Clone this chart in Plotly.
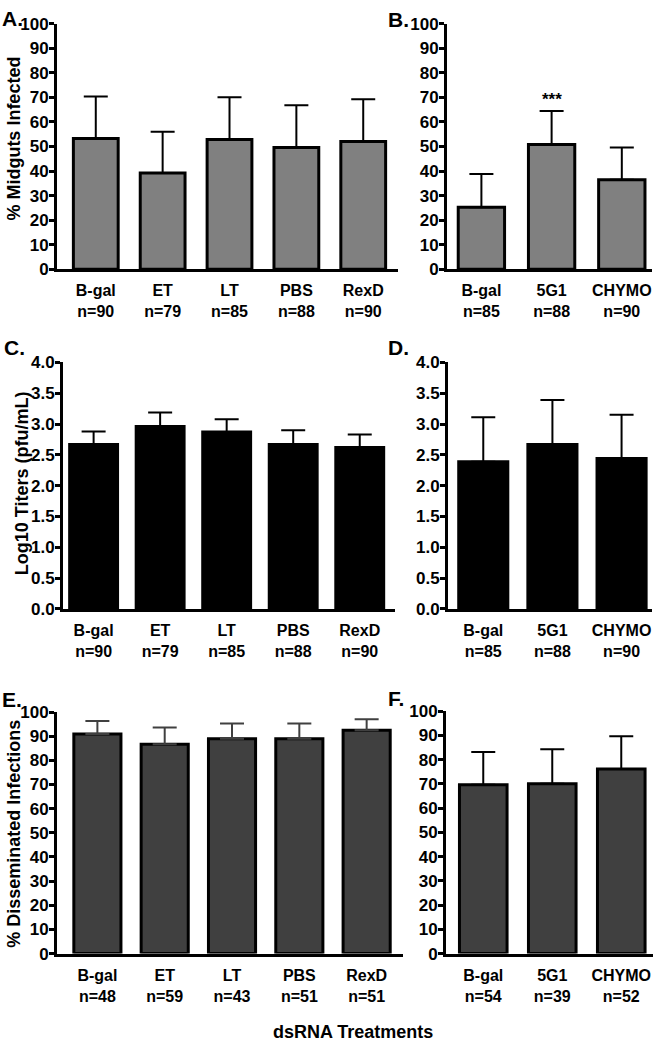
import plotly.graph_objects as go

W, H = 659, 1049

# ---------- data ----------
cats_left = ["B-gal", "ET", "LT", "PBS", "RexD"]
cats_right = ["B-gal", "5G1", "CHYMO"]

n_A = ["n=90", "n=79", "n=85", "n=88", "n=90"]
n_B = ["n=85", "n=88", "n=90"]
n_C = ["n=90", "n=79", "n=85", "n=88", "n=90"]
n_D = ["n=85", "n=88", "n=90"]
n_E = ["n=48", "n=59", "n=43", "n=51", "n=51"]
n_F = ["n=54", "n=39", "n=52"]

midgut_left = [53.2, 39.2, 52.8, 49.6, 52.0]
midgut_left_err = [17.2, 16.8, 17.2, 17.2, 17.2]
midgut_right = [25.2, 50.8, 36.4]
midgut_right_err = [13.6, 13.6, 13.2]

titer_left = [2.67, 2.96, 2.87, 2.67, 2.62]
titer_left_err = [0.21, 0.23, 0.21, 0.23, 0.21]
titer_right = [2.39, 2.67, 2.44]
titer_right_err = [0.72, 0.72, 0.71]

dissem_left = [90.9, 86.7, 88.9, 88.9, 92.5]
dissem_left_err = [5.4, 6.9, 6.4, 6.4, 4.5]
dissem_right = [69.6, 70.0, 76.1]
dissem_right_err = [13.5, 14.2, 13.5]

# ---------- layout helpers ----------
def fx(px):
    return px / W

def fy(py):
    return 1 - py / H

FONT = "Liberation Sans, Arial, sans-serif"

panels = [
    dict(cats=cats_left, n=n_A, v=midgut_left, e=midgut_left_err, fill="#808080", ec="#000000",
         xd=(57, 398), yd=(15, 265), xr=(-0.58, 4.52), yr=(0, 100), dt=10, fmt="d",
         title="% Midguts Infected", tx=14, ty=132, letter="A.", lx=0, ly=10, width=0.67),
    dict(cats=cats_right, n=n_B, v=midgut_right, e=midgut_right_err, fill="#808080", ec="#000000",
         xd=(447, 652), yd=(15, 265), xr=(-0.49, 2.43), yr=(0, 100), dt=10, fmt="d",
         title=None, letter="B.", lx=386, ly=11, width=0.66),
    dict(cats=cats_left, n=n_C, v=titer_left, e=titer_left_err, fill="#000000", ec="#000000",
         xd=(63, 395), yd=(360, 611), xr=(-0.46, 4.53), yr=(0, 4), dt=0.5, fmt=".1f",
         title="Log10 Titers (pfu/mL)", tx=22, ty=483, letter="C.", lx=2, ly=345, width=0.72),
    dict(cats=cats_right, n=n_D, v=titer_right, e=titer_right_err, fill="#000000", ec="#000000",
         xd=(448, 652), yd=(360, 611), xr=(-0.51, 2.44), yr=(0, 4), dt=0.5, fmt=".1f",
         title=None, letter="D.", lx=386, ly=345, width=0.71),
    dict(cats=cats_left, n=n_E, v=dissem_left, e=dissem_left_err, fill="#404040", ec="#404040",
         xd=(57, 403), yd=(716, 962), xr=(-0.6, 4.54), yr=(0, 100), dt=10, fmt="d",
         title="% Disseminated Infections", tx=14, ty=840, letter="E.", lx=0, ly=703, width=0.7),
    dict(cats=cats_right, n=n_F, v=dissem_right, e=dissem_right_err, fill="#404040", ec="#000000",
         xd=(446, 653), yd=(715, 962), xr=(-0.54, 2.46), yr=(0, 100), dt=10, fmt="d",
         title=None, letter="F.", lx=386, ly=702, width=0.69),
]

fig = go.Figure()
annotations = []

for i, p in enumerate(panels, start=1):
    xa = "x" if i == 1 else f"x{i}"
    ya = "y" if i == 1 else f"y{i}"
    idx = list(range(len(p["cats"])))
    fig.add_trace(go.Bar(
        x=idx, y=p["v"], width=p["width"],
        marker=dict(color=p["fill"], line=dict(color="#000000", width=3)),
        error_y=dict(type="data", symmetric=False, array=p["e"],
                     arrayminus=[0] * len(p["e"]),
                     color=p["ec"], thickness=2, width=12),
        xaxis=xa, yaxis=ya, showlegend=False, hoverinfo="skip",
    ))
    ticktext = [f"{c}<br>{n}" for c, n in zip(p["cats"], p["n"])]
    xkey = "xaxis" if i == 1 else f"xaxis{i}"
    ykey = "yaxis" if i == 1 else f"yaxis{i}"
    fig.layout[xkey] = dict(
        domain=[fx(p["xd"][0]), fx(p["xd"][1])],
        range=list(p["xr"]), anchor=ya,
        tickmode="array", tickvals=idx, ticktext=ticktext,
        showline=True, linecolor="#000000", linewidth=3,
        ticks="", showgrid=False, zeroline=False,
        tickfont=dict(family=FONT, size=16, color="#000000", weight="bold"),
        ticklabelstandoff=5, fixedrange=True,
    )
    fig.layout[ykey] = dict(
        domain=[fy(p["yd"][1]), fy(p["yd"][0])],
        range=list(p["yr"]), anchor=xa,
        tickmode="linear", tick0=0, dtick=p["dt"], tickformat=p["fmt"],
        showline=True, linecolor="#000000", linewidth=3,
        ticks="outside", ticklen=5, tickwidth=2.5, tickcolor="#000000",
        showgrid=False, zeroline=False,
        tickfont=dict(family=FONT, size=17, color="#000000", weight="bold"),
        ticklabelstandoff=-3, fixedrange=True,
    )
    if p["title"]:
        annotations.append(dict(
            text=p["title"], xref="paper", yref="paper",
            x=fx(p["tx"]), y=fy(p["ty"]), xanchor="center", yanchor="middle",
            textangle=-90, showarrow=False,
            font=dict(family=FONT, size=18, color="#000000", weight="bold"),
        ))
    annotations.append(dict(
        text=p["letter"], xref="paper", yref="paper",
        x=fx(p["lx"]), y=fy(p["ly"]), xanchor="left", yanchor="middle",
        showarrow=False, font=dict(family=FONT, size=21, color="#000000", weight="bold"),
    ))

# significance marker on 5G1 in panel B
annotations.append(dict(
    text="***", xref="x2", yref="y2", x=1, y=midgut_right[1] + midgut_right_err[1],
    xanchor="center", yanchor="bottom", yshift=0, showarrow=False,
    font=dict(family=FONT, size=17, color="#000000", weight="bold"),
))

# shared x title
annotations.append(dict(
    text="dsRNA Treatments", xref="paper", yref="paper",
    x=fx(353), y=fy(1042), xanchor="center", yanchor="middle",
    showarrow=False, font=dict(family=FONT, size=18, color="#000000", weight="bold"),
))

fig.update_layout(
    width=W, height=H,
    margin=dict(l=0, r=0, t=0, b=0),
    paper_bgcolor="#ffffff", plot_bgcolor="#ffffff",
    annotations=annotations, bargap=0.3,
)

fig.write_html(
    "out.html",
    config={"displayModeBar": False},
    post_script="document.body.style.margin='0';document.body.style.overflow='hidden';",
)
